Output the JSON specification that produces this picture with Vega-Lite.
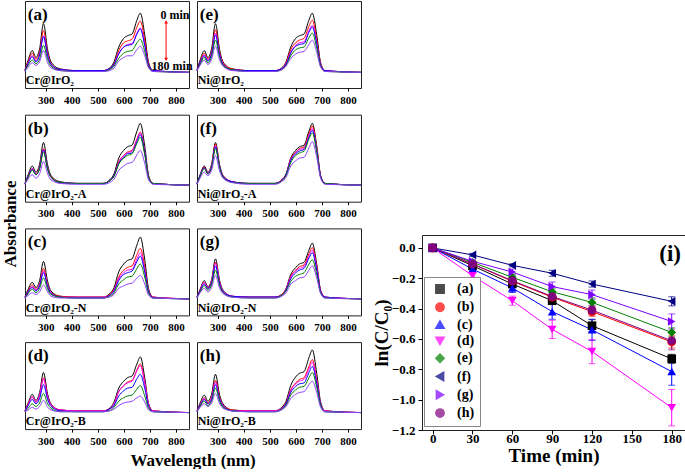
{
"$schema": "https://vega.github.io/schema/vega-lite/v6.json",
"padding": {"left": 1, "top": 0, "right": 0, "bottom": 0},
"background": "white",
"config": {
 "font": "Liberation Serif",
 "view": {"stroke": "#222", "strokeWidth": 1},
 "axis": {"labelFont": "Liberation Serif", "labelFontWeight": "bold", "titleFont": "Liberation Serif", "titleFontWeight": "bold", "labelColor": "#000", "titleColor": "#000", "tickColor": "#000", "domainColor": "#000", "grid": false},
 "header": {"titleFont": "Liberation Serif", "titleFontWeight": "bold", "titleColor": "#000"},
 "text": {"font": "Liberation Serif", "fontWeight": "bold", "color": "#000"}
},
"datasets": {
"spec": [
{"p":"a","w":220,"t0":0.21,"t30":0.21,"t60":0.20,"t90":0.20,"t120":0.20,"t180":0.19},
{"p":"a","w":232,"t0":0.32,"t30":0.30,"t60":0.29,"t90":0.28,"t120":0.26,"t180":0.24},
{"p":"a","w":248,"t0":0.43,"t30":0.40,"t60":0.37,"t90":0.36,"t120":0.32,"t180":0.29},
{"p":"a","w":262,"t0":0.35,"t30":0.33,"t60":0.31,"t90":0.30,"t120":0.28,"t180":0.26},
{"p":"a","w":276,"t0":0.45,"t30":0.41,"t60":0.38,"t90":0.38,"t120":0.33,"t180":0.30},
{"p":"a","w":291,"t0":0.74,"t30":0.66,"t60":0.60,"t90":0.59,"t120":0.49,"t180":0.43},
{"p":"a","w":307,"t0":0.44,"t30":0.40,"t60":0.38,"t90":0.37,"t120":0.33,"t180":0.29},
{"p":"a","w":320,"t0":0.30,"t30":0.28,"t60":0.27,"t90":0.27,"t120":0.25,"t180":0.23},
{"p":"a","w":355,"t0":0.22,"t30":0.21,"t60":0.21,"t90":0.21,"t120":0.20,"t180":0.20},
{"p":"a","w":420,"t0":0.20,"t30":0.20,"t60":0.20,"t90":0.20,"t120":0.19,"t180":0.19},
{"p":"a","w":520,"t0":0.20,"t30":0.20,"t60":0.20,"t90":0.20,"t120":0.19,"t180":0.19},
{"p":"a","w":545,"t0":0.23,"t30":0.22,"t60":0.22,"t90":0.22,"t120":0.21,"t180":0.20},
{"p":"a","w":562,"t0":0.30,"t30":0.28,"t60":0.27,"t90":0.27,"t120":0.25,"t180":0.23},
{"p":"a","w":580,"t0":0.47,"t30":0.43,"t60":0.40,"t90":0.39,"t120":0.34,"t180":0.31},
{"p":"a","w":599,"t0":0.57,"t30":0.52,"t60":0.47,"t90":0.47,"t120":0.40,"t180":0.35},
{"p":"a","w":613,"t0":0.60,"t30":0.54,"t60":0.50,"t90":0.49,"t120":0.42,"t180":0.37},
{"p":"a","w":631,"t0":0.62,"t30":0.56,"t60":0.51,"t90":0.50,"t120":0.43,"t180":0.37},
{"p":"a","w":650,"t0":0.78,"t30":0.70,"t60":0.63,"t90":0.62,"t120":0.52,"t180":0.44},
{"p":"a","w":663,"t0":0.86,"t30":0.77,"t60":0.69,"t90":0.68,"t120":0.56,"t180":0.48},
{"p":"a","w":680,"t0":0.61,"t30":0.55,"t60":0.50,"t90":0.49,"t120":0.42,"t180":0.37},
{"p":"a","w":695,"t0":0.29,"t30":0.28,"t60":0.26,"t90":0.26,"t120":0.24,"t180":0.23},
{"p":"a","w":712,"t0":0.20,"t30":0.20,"t60":0.20,"t90":0.20,"t120":0.19,"t180":0.19},
{"p":"a","w":850,"t0":0.18,"t30":0.18,"t60":0.18,"t90":0.18,"t120":0.18,"t180":0.18},
{"p":"b","w":220,"t0":0.21,"t30":0.21,"t60":0.21,"t90":0.21,"t120":0.21,"t180":0.20},
{"p":"b","w":232,"t0":0.31,"t30":0.29,"t60":0.29,"t90":0.29,"t120":0.28,"t180":0.26},
{"p":"b","w":248,"t0":0.41,"t30":0.38,"t60":0.38,"t90":0.37,"t120":0.36,"t180":0.31},
{"p":"b","w":262,"t0":0.34,"t30":0.32,"t60":0.32,"t90":0.31,"t120":0.31,"t180":0.27},
{"p":"b","w":276,"t0":0.43,"t30":0.40,"t60":0.39,"t90":0.38,"t120":0.38,"t180":0.32},
{"p":"b","w":291,"t0":0.68,"t30":0.61,"t60":0.60,"t90":0.59,"t120":0.57,"t180":0.46},
{"p":"b","w":307,"t0":0.42,"t30":0.39,"t60":0.38,"t90":0.38,"t120":0.37,"t180":0.32},
{"p":"b","w":320,"t0":0.30,"t30":0.29,"t60":0.28,"t90":0.28,"t120":0.28,"t180":0.25},
{"p":"b","w":355,"t0":0.23,"t30":0.22,"t60":0.22,"t90":0.22,"t120":0.22,"t180":0.21},
{"p":"b","w":420,"t0":0.21,"t30":0.21,"t60":0.21,"t90":0.21,"t120":0.21,"t180":0.20},
{"p":"b","w":520,"t0":0.21,"t30":0.21,"t60":0.21,"t90":0.21,"t120":0.21,"t180":0.20},
{"p":"b","w":545,"t0":0.25,"t30":0.24,"t60":0.24,"t90":0.24,"t120":0.24,"t180":0.22},
{"p":"b","w":562,"t0":0.32,"t30":0.30,"t60":0.30,"t90":0.30,"t120":0.29,"t180":0.26},
{"p":"b","w":580,"t0":0.50,"t30":0.46,"t60":0.45,"t90":0.44,"t120":0.43,"t180":0.36},
{"p":"b","w":599,"t0":0.59,"t30":0.53,"t60":0.53,"t90":0.51,"t120":0.50,"t180":0.41},
{"p":"b","w":613,"t0":0.63,"t30":0.57,"t60":0.56,"t90":0.55,"t120":0.53,"t180":0.44},
{"p":"b","w":631,"t0":0.65,"t30":0.59,"t60":0.58,"t90":0.56,"t120":0.55,"t180":0.45},
{"p":"b","w":650,"t0":0.81,"t30":0.72,"t60":0.71,"t90":0.69,"t120":0.67,"t180":0.54},
{"p":"b","w":663,"t0":0.90,"t30":0.80,"t60":0.79,"t90":0.77,"t120":0.74,"t180":0.59},
{"p":"b","w":680,"t0":0.64,"t30":0.58,"t60":0.57,"t90":0.56,"t120":0.54,"t180":0.44},
{"p":"b","w":695,"t0":0.30,"t30":0.29,"t60":0.28,"t90":0.28,"t120":0.28,"t180":0.25},
{"p":"b","w":712,"t0":0.21,"t30":0.21,"t60":0.21,"t90":0.21,"t120":0.21,"t180":0.20},
{"p":"b","w":850,"t0":0.19,"t30":0.19,"t60":0.19,"t90":0.19,"t120":0.19,"t180":0.19},
{"p":"c","w":220,"t0":0.21,"t30":0.21,"t60":0.21,"t90":0.20,"t120":0.20,"t180":0.20},
{"p":"c","w":232,"t0":0.30,"t30":0.28,"t60":0.27,"t90":0.27,"t120":0.25,"t180":0.23},
{"p":"c","w":248,"t0":0.38,"t30":0.35,"t60":0.33,"t90":0.32,"t120":0.30,"t180":0.26},
{"p":"c","w":262,"t0":0.32,"t30":0.30,"t60":0.29,"t90":0.28,"t120":0.26,"t180":0.24},
{"p":"c","w":276,"t0":0.40,"t30":0.36,"t60":0.35,"t90":0.34,"t120":0.31,"t180":0.27},
{"p":"c","w":291,"t0":0.62,"t30":0.54,"t60":0.51,"t90":0.49,"t120":0.43,"t180":0.35},
{"p":"c","w":307,"t0":0.39,"t30":0.35,"t60":0.34,"t90":0.33,"t120":0.30,"t180":0.27},
{"p":"c","w":320,"t0":0.28,"t30":0.26,"t60":0.26,"t90":0.25,"t120":0.24,"t180":0.22},
{"p":"c","w":355,"t0":0.22,"t30":0.22,"t60":0.21,"t90":0.21,"t120":0.21,"t180":0.20},
{"p":"c","w":420,"t0":0.21,"t30":0.21,"t60":0.21,"t90":0.20,"t120":0.20,"t180":0.20},
{"p":"c","w":520,"t0":0.21,"t30":0.21,"t60":0.21,"t90":0.20,"t120":0.20,"t180":0.20},
{"p":"c","w":545,"t0":0.25,"t30":0.24,"t60":0.23,"t90":0.23,"t120":0.22,"t180":0.21},
{"p":"c","w":562,"t0":0.32,"t30":0.30,"t60":0.29,"t90":0.28,"t120":0.26,"t180":0.24},
{"p":"c","w":580,"t0":0.50,"t30":0.44,"t60":0.42,"t90":0.40,"t120":0.36,"t180":0.31},
{"p":"c","w":599,"t0":0.59,"t30":0.52,"t60":0.49,"t90":0.47,"t120":0.41,"t180":0.34},
{"p":"c","w":613,"t0":0.63,"t30":0.55,"t60":0.52,"t90":0.49,"t120":0.44,"t180":0.36},
{"p":"c","w":631,"t0":0.65,"t30":0.57,"t60":0.53,"t90":0.51,"t120":0.45,"t180":0.37},
{"p":"c","w":650,"t0":0.81,"t30":0.70,"t60":0.65,"t90":0.62,"t120":0.54,"t180":0.43},
{"p":"c","w":663,"t0":0.90,"t30":0.77,"t60":0.72,"t90":0.68,"t120":0.59,"t180":0.46},
{"p":"c","w":680,"t0":0.64,"t30":0.56,"t60":0.52,"t90":0.50,"t120":0.44,"t180":0.36},
{"p":"c","w":695,"t0":0.30,"t30":0.28,"t60":0.27,"t90":0.27,"t120":0.25,"t180":0.23},
{"p":"c","w":712,"t0":0.21,"t30":0.21,"t60":0.21,"t90":0.20,"t120":0.20,"t180":0.20},
{"p":"c","w":850,"t0":0.19,"t30":0.19,"t60":0.19,"t90":0.19,"t120":0.19,"t180":0.19},
{"p":"d","w":220,"t0":0.21,"t30":0.21,"t60":0.21,"t90":0.20,"t120":0.20,"t180":0.20},
{"p":"d","w":232,"t0":0.30,"t30":0.29,"t60":0.28,"t90":0.27,"t120":0.24,"t180":0.22},
{"p":"d","w":248,"t0":0.40,"t30":0.37,"t60":0.37,"t90":0.34,"t120":0.29,"t180":0.25},
{"p":"d","w":262,"t0":0.33,"t30":0.31,"t60":0.31,"t90":0.29,"t120":0.26,"t180":0.23},
{"p":"d","w":276,"t0":0.42,"t30":0.39,"t60":0.39,"t90":0.35,"t120":0.30,"t180":0.26},
{"p":"d","w":291,"t0":0.65,"t30":0.59,"t60":0.58,"t90":0.51,"t120":0.41,"t180":0.33},
{"p":"d","w":307,"t0":0.40,"t30":0.37,"t60":0.37,"t90":0.34,"t120":0.29,"t180":0.25},
{"p":"d","w":320,"t0":0.29,"t30":0.28,"t60":0.28,"t90":0.26,"t120":0.24,"t180":0.22},
{"p":"d","w":355,"t0":0.22,"t30":0.22,"t60":0.22,"t90":0.21,"t120":0.20,"t180":0.20},
{"p":"d","w":420,"t0":0.21,"t30":0.21,"t60":0.21,"t90":0.20,"t120":0.20,"t180":0.20},
{"p":"d","w":520,"t0":0.21,"t30":0.21,"t60":0.21,"t90":0.20,"t120":0.20,"t180":0.20},
{"p":"d","w":545,"t0":0.24,"t30":0.23,"t60":0.23,"t90":0.23,"t120":0.21,"t180":0.21},
{"p":"d","w":562,"t0":0.31,"t30":0.29,"t60":0.29,"t90":0.27,"t120":0.25,"t180":0.23},
{"p":"d","w":580,"t0":0.47,"t30":0.43,"t60":0.43,"t90":0.38,"t120":0.32,"t180":0.27},
{"p":"d","w":599,"t0":0.55,"t30":0.50,"t60":0.50,"t90":0.44,"t120":0.36,"t180":0.30},
{"p":"d","w":613,"t0":0.59,"t30":0.54,"t60":0.53,"t90":0.47,"t120":0.38,"t180":0.31},
{"p":"d","w":631,"t0":0.61,"t30":0.56,"t60":0.55,"t90":0.48,"t120":0.39,"t180":0.32},
{"p":"d","w":650,"t0":0.75,"t30":0.68,"t60":0.67,"t90":0.58,"t120":0.46,"t180":0.36},
{"p":"d","w":663,"t0":0.83,"t30":0.75,"t60":0.73,"t90":0.63,"t120":0.50,"t180":0.38},
{"p":"d","w":680,"t0":0.59,"t30":0.54,"t60":0.53,"t90":0.47,"t120":0.38,"t180":0.31},
{"p":"d","w":695,"t0":0.29,"t30":0.28,"t60":0.28,"t90":0.26,"t120":0.24,"t180":0.22},
{"p":"d","w":712,"t0":0.21,"t30":0.21,"t60":0.21,"t90":0.20,"t120":0.20,"t180":0.20},
{"p":"d","w":850,"t0":0.19,"t30":0.19,"t60":0.19,"t90":0.19,"t120":0.19,"t180":0.19},
{"p":"e","w":220,"t0":0.21,"t30":0.21,"t60":0.20,"t90":0.20,"t120":0.20,"t180":0.20},
{"p":"e","w":232,"t0":0.32,"t30":0.30,"t60":0.29,"t90":0.29,"t120":0.27,"t180":0.26},
{"p":"e","w":248,"t0":0.43,"t30":0.40,"t60":0.38,"t90":0.37,"t120":0.35,"t180":0.32},
{"p":"e","w":262,"t0":0.35,"t30":0.33,"t60":0.32,"t90":0.31,"t120":0.29,"t180":0.27},
{"p":"e","w":276,"t0":0.45,"t30":0.42,"t60":0.40,"t90":0.39,"t120":0.36,"t180":0.33},
{"p":"e","w":291,"t0":0.74,"t30":0.67,"t60":0.63,"t90":0.61,"t120":0.55,"t180":0.48},
{"p":"e","w":307,"t0":0.44,"t30":0.41,"t60":0.39,"t90":0.38,"t120":0.35,"t180":0.32},
{"p":"e","w":320,"t0":0.30,"t30":0.29,"t60":0.28,"t90":0.27,"t120":0.26,"t180":0.25},
{"p":"e","w":355,"t0":0.22,"t30":0.22,"t60":0.21,"t90":0.21,"t120":0.21,"t180":0.20},
{"p":"e","w":420,"t0":0.20,"t30":0.20,"t60":0.20,"t90":0.20,"t120":0.19,"t180":0.19},
{"p":"e","w":520,"t0":0.20,"t30":0.20,"t60":0.20,"t90":0.20,"t120":0.19,"t180":0.19},
{"p":"e","w":545,"t0":0.23,"t30":0.22,"t60":0.22,"t90":0.22,"t120":0.21,"t180":0.21},
{"p":"e","w":562,"t0":0.30,"t30":0.29,"t60":0.28,"t90":0.27,"t120":0.26,"t180":0.25},
{"p":"e","w":580,"t0":0.47,"t30":0.44,"t60":0.41,"t90":0.40,"t120":0.37,"t180":0.34},
{"p":"e","w":599,"t0":0.57,"t30":0.52,"t60":0.49,"t90":0.48,"t120":0.44,"t180":0.39},
{"p":"e","w":613,"t0":0.60,"t30":0.55,"t60":0.52,"t90":0.50,"t120":0.46,"t180":0.41},
{"p":"e","w":631,"t0":0.62,"t30":0.57,"t60":0.53,"t90":0.51,"t120":0.47,"t180":0.42},
{"p":"e","w":650,"t0":0.78,"t30":0.71,"t60":0.66,"t90":0.64,"t120":0.58,"t180":0.50},
{"p":"e","w":663,"t0":0.86,"t30":0.78,"t60":0.72,"t90":0.70,"t120":0.63,"t180":0.55},
{"p":"e","w":680,"t0":0.61,"t30":0.56,"t60":0.52,"t90":0.51,"t120":0.46,"t180":0.41},
{"p":"e","w":695,"t0":0.29,"t30":0.28,"t60":0.27,"t90":0.26,"t120":0.25,"t180":0.24},
{"p":"e","w":712,"t0":0.20,"t30":0.20,"t60":0.20,"t90":0.20,"t120":0.19,"t180":0.19},
{"p":"e","w":850,"t0":0.18,"t30":0.18,"t60":0.18,"t90":0.18,"t120":0.18,"t180":0.18},
{"p":"f","w":220,"t0":0.21,"t30":0.21,"t60":0.21,"t90":0.21,"t120":0.21,"t180":0.20},
{"p":"f","w":232,"t0":0.31,"t30":0.30,"t60":0.30,"t90":0.30,"t120":0.29,"t180":0.27},
{"p":"f","w":248,"t0":0.41,"t30":0.40,"t60":0.39,"t90":0.39,"t120":0.38,"t180":0.34},
{"p":"f","w":262,"t0":0.34,"t30":0.33,"t60":0.33,"t90":0.32,"t120":0.32,"t180":0.30},
{"p":"f","w":276,"t0":0.43,"t30":0.42,"t60":0.41,"t90":0.40,"t120":0.39,"t180":0.36},
{"p":"f","w":291,"t0":0.68,"t30":0.66,"t60":0.64,"t90":0.63,"t120":0.61,"t180":0.53},
{"p":"f","w":307,"t0":0.42,"t30":0.41,"t60":0.40,"t90":0.40,"t120":0.39,"t180":0.35},
{"p":"f","w":320,"t0":0.30,"t30":0.30,"t60":0.29,"t90":0.29,"t120":0.28,"t180":0.27},
{"p":"f","w":355,"t0":0.23,"t30":0.23,"t60":0.23,"t90":0.23,"t120":0.22,"t180":0.22},
{"p":"f","w":420,"t0":0.21,"t30":0.21,"t60":0.21,"t90":0.21,"t120":0.21,"t180":0.20},
{"p":"f","w":520,"t0":0.21,"t30":0.21,"t60":0.21,"t90":0.21,"t120":0.21,"t180":0.20},
{"p":"f","w":545,"t0":0.25,"t30":0.25,"t60":0.25,"t90":0.24,"t120":0.24,"t180":0.23},
{"p":"f","w":562,"t0":0.32,"t30":0.31,"t60":0.31,"t90":0.31,"t120":0.30,"t180":0.28},
{"p":"f","w":580,"t0":0.50,"t30":0.49,"t60":0.48,"t90":0.47,"t120":0.45,"t180":0.41},
{"p":"f","w":599,"t0":0.59,"t30":0.57,"t60":0.56,"t90":0.55,"t120":0.53,"t180":0.47},
{"p":"f","w":613,"t0":0.63,"t30":0.61,"t60":0.60,"t90":0.58,"t120":0.56,"t180":0.50},
{"p":"f","w":631,"t0":0.65,"t30":0.63,"t60":0.61,"t90":0.60,"t120":0.58,"t180":0.51},
{"p":"f","w":650,"t0":0.81,"t30":0.78,"t60":0.76,"t90":0.74,"t120":0.72,"t180":0.62},
{"p":"f","w":663,"t0":0.90,"t30":0.87,"t60":0.84,"t90":0.82,"t120":0.79,"t180":0.69},
{"p":"f","w":680,"t0":0.64,"t30":0.62,"t60":0.60,"t90":0.59,"t120":0.57,"t180":0.51},
{"p":"f","w":695,"t0":0.30,"t30":0.30,"t60":0.29,"t90":0.29,"t120":0.28,"t180":0.27},
{"p":"f","w":712,"t0":0.21,"t30":0.21,"t60":0.21,"t90":0.21,"t120":0.21,"t180":0.20},
{"p":"f","w":850,"t0":0.19,"t30":0.19,"t60":0.19,"t90":0.19,"t120":0.19,"t180":0.19},
{"p":"g","w":220,"t0":0.21,"t30":0.21,"t60":0.21,"t90":0.21,"t120":0.20,"t180":0.20},
{"p":"g","w":232,"t0":0.30,"t30":0.29,"t60":0.29,"t90":0.28,"t120":0.27,"t180":0.26},
{"p":"g","w":248,"t0":0.40,"t30":0.38,"t60":0.38,"t90":0.36,"t120":0.34,"t180":0.31},
{"p":"g","w":262,"t0":0.33,"t30":0.32,"t60":0.31,"t90":0.31,"t120":0.29,"t180":0.27},
{"p":"g","w":276,"t0":0.41,"t30":0.39,"t60":0.38,"t90":0.37,"t120":0.35,"t180":0.32},
{"p":"g","w":291,"t0":0.65,"t30":0.61,"t60":0.60,"t90":0.57,"t120":0.52,"t180":0.46},
{"p":"g","w":307,"t0":0.40,"t30":0.38,"t60":0.38,"t90":0.36,"t120":0.34,"t180":0.31},
{"p":"g","w":320,"t0":0.29,"t30":0.28,"t60":0.28,"t90":0.27,"t120":0.26,"t180":0.25},
{"p":"g","w":355,"t0":0.22,"t30":0.22,"t60":0.22,"t90":0.22,"t120":0.21,"t180":0.21},
{"p":"g","w":420,"t0":0.21,"t30":0.21,"t60":0.21,"t90":0.21,"t120":0.20,"t180":0.20},
{"p":"g","w":520,"t0":0.21,"t30":0.21,"t60":0.21,"t90":0.21,"t120":0.20,"t180":0.20},
{"p":"g","w":545,"t0":0.24,"t30":0.24,"t60":0.23,"t90":0.23,"t120":0.23,"t180":0.22},
{"p":"g","w":562,"t0":0.31,"t30":0.30,"t60":0.30,"t90":0.29,"t120":0.28,"t180":0.26},
{"p":"g","w":580,"t0":0.47,"t30":0.45,"t60":0.44,"t90":0.42,"t120":0.39,"t180":0.36},
{"p":"g","w":599,"t0":0.55,"t30":0.52,"t60":0.51,"t90":0.49,"t120":0.45,"t180":0.40},
{"p":"g","w":613,"t0":0.59,"t30":0.56,"t60":0.54,"t90":0.52,"t120":0.47,"t180":0.43},
{"p":"g","w":631,"t0":0.61,"t30":0.58,"t60":0.56,"t90":0.54,"t120":0.49,"t180":0.44},
{"p":"g","w":650,"t0":0.75,"t30":0.71,"t60":0.68,"t90":0.66,"t120":0.59,"t180":0.52},
{"p":"g","w":663,"t0":0.83,"t30":0.78,"t60":0.75,"t90":0.72,"t120":0.64,"t180":0.57},
{"p":"g","w":680,"t0":0.59,"t30":0.56,"t60":0.54,"t90":0.52,"t120":0.47,"t180":0.43},
{"p":"g","w":695,"t0":0.29,"t30":0.28,"t60":0.28,"t90":0.27,"t120":0.26,"t180":0.25},
{"p":"g","w":712,"t0":0.21,"t30":0.21,"t60":0.21,"t90":0.21,"t120":0.20,"t180":0.20},
{"p":"g","w":850,"t0":0.19,"t30":0.19,"t60":0.19,"t90":0.19,"t120":0.19,"t180":0.19},
{"p":"h","w":220,"t0":0.21,"t30":0.21,"t60":0.21,"t90":0.20,"t120":0.20,"t180":0.20},
{"p":"h","w":232,"t0":0.30,"t30":0.28,"t60":0.28,"t90":0.27,"t120":0.26,"t180":0.25},
{"p":"h","w":248,"t0":0.39,"t30":0.36,"t60":0.35,"t90":0.34,"t120":0.32,"t180":0.29},
{"p":"h","w":262,"t0":0.32,"t30":0.30,"t60":0.29,"t90":0.29,"t120":0.27,"t180":0.26},
{"p":"h","w":276,"t0":0.40,"t30":0.37,"t60":0.36,"t90":0.34,"t120":0.32,"t180":0.30},
{"p":"h","w":291,"t0":0.63,"t30":0.56,"t60":0.54,"t90":0.51,"t120":0.47,"t180":0.41},
{"p":"h","w":307,"t0":0.39,"t30":0.36,"t60":0.35,"t90":0.34,"t120":0.32,"t180":0.29},
{"p":"h","w":320,"t0":0.29,"t30":0.27,"t60":0.27,"t90":0.26,"t120":0.25,"t180":0.24},
{"p":"h","w":355,"t0":0.22,"t30":0.22,"t60":0.21,"t90":0.21,"t120":0.21,"t180":0.21},
{"p":"h","w":420,"t0":0.21,"t30":0.21,"t60":0.21,"t90":0.20,"t120":0.20,"t180":0.20},
{"p":"h","w":520,"t0":0.21,"t30":0.21,"t60":0.21,"t90":0.20,"t120":0.20,"t180":0.20},
{"p":"h","w":545,"t0":0.25,"t30":0.24,"t60":0.24,"t90":0.23,"t120":0.23,"t180":0.22},
{"p":"h","w":562,"t0":0.32,"t30":0.30,"t60":0.29,"t90":0.29,"t120":0.27,"t180":0.26},
{"p":"h","w":580,"t0":0.50,"t30":0.45,"t60":0.44,"t90":0.42,"t120":0.39,"t180":0.35},
{"p":"h","w":599,"t0":0.60,"t30":0.53,"t60":0.52,"t90":0.49,"t120":0.45,"t180":0.40},
{"p":"h","w":613,"t0":0.64,"t30":0.57,"t60":0.55,"t90":0.52,"t120":0.48,"t180":0.42},
{"p":"h","w":631,"t0":0.66,"t30":0.59,"t60":0.57,"t90":0.53,"t120":0.49,"t180":0.43},
{"p":"h","w":650,"t0":0.82,"t30":0.72,"t60":0.69,"t90":0.65,"t120":0.59,"t180":0.51},
{"p":"h","w":663,"t0":0.91,"t30":0.80,"t60":0.77,"t90":0.72,"t120":0.65,"t180":0.55},
{"p":"h","w":680,"t0":0.64,"t30":0.57,"t60":0.55,"t90":0.52,"t120":0.48,"t180":0.42},
{"p":"h","w":695,"t0":0.31,"t30":0.29,"t60":0.29,"t90":0.28,"t120":0.27,"t180":0.25},
{"p":"h","w":712,"t0":0.21,"t30":0.21,"t60":0.21,"t90":0.20,"t120":0.20,"t180":0.20},
{"p":"h","w":850,"t0":0.19,"t30":0.19,"t60":0.19,"t90":0.19,"t120":0.19,"t180":0.19}
],
"kin": [
{"s":"(a)","t":0,"v":0,"e":0},{"s":"(a)","t":30,"v":-0.117,"e":0.01},{"s":"(a)","t":60,"v":-0.238,"e":0.02},{"s":"(a)","t":90,"v":-0.348,"e":0.02},{"s":"(a)","t":120,"v":-0.513,"e":0.04},{"s":"(a)","t":180,"v":-0.731,"e":0.03},
{"s":"(b)","t":0,"v":0,"e":0},{"s":"(b)","t":30,"v":-0.106,"e":0.01},{"s":"(b)","t":60,"v":-0.22,"e":0.02},{"s":"(b)","t":90,"v":-0.325,"e":0.02},{"s":"(b)","t":120,"v":-0.42,"e":0.03},{"s":"(b)","t":180,"v":-0.62,"e":0.04},
{"s":"(c)","t":0,"v":0,"e":0},{"s":"(c)","t":30,"v":-0.139,"e":0.02},{"s":"(c)","t":60,"v":-0.264,"e":0.03},{"s":"(c)","t":90,"v":-0.42,"e":0.05},{"s":"(c)","t":120,"v":-0.54,"e":0.07},{"s":"(c)","t":180,"v":-0.815,"e":0.09},
{"s":"(d)","t":0,"v":0,"e":0},{"s":"(d)","t":30,"v":-0.183,"e":0.02},{"s":"(d)","t":60,"v":-0.348,"e":0.03},{"s":"(d)","t":90,"v":-0.537,"e":0.06},{"s":"(d)","t":120,"v":-0.683,"e":0.08},{"s":"(d)","t":180,"v":-1.053,"e":0.12},
{"s":"(e)","t":0,"v":0,"e":0},{"s":"(e)","t":30,"v":-0.095,"e":0.01},{"s":"(e)","t":60,"v":-0.194,"e":0.02},{"s":"(e)","t":90,"v":-0.289,"e":0.02},{"s":"(e)","t":120,"v":-0.359,"e":0.03},{"s":"(e)","t":180,"v":-0.557,"e":0.03},
{"s":"(f)","t":0,"v":0,"e":0},{"s":"(f)","t":30,"v":-0.046,"e":0.01},{"s":"(f)","t":60,"v":-0.115,"e":0.01},{"s":"(f)","t":90,"v":-0.167,"e":0.02},{"s":"(f)","t":120,"v":-0.238,"e":0.02},{"s":"(f)","t":180,"v":-0.352,"e":0.03},
{"s":"(g)","t":0,"v":0,"e":0},{"s":"(g)","t":30,"v":-0.088,"e":0.01},{"s":"(g)","t":60,"v":-0.159,"e":0.02},{"s":"(g)","t":90,"v":-0.255,"e":0.03},{"s":"(g)","t":120,"v":-0.308,"e":0.03},{"s":"(g)","t":180,"v":-0.485,"e":0.05},
{"s":"(h)","t":0,"v":0,"e":0},{"s":"(h)","t":30,"v":-0.106,"e":0.01},{"s":"(h)","t":60,"v":-0.216,"e":0.02},{"s":"(h)","t":90,"v":-0.32,"e":0.02},{"s":"(h)","t":120,"v":-0.41,"e":0.03},{"s":"(h)","t":180,"v":-0.612,"e":0.06}
]
},
"spacing": 7,
"resolve": {"scale": {"x": "independent", "y": "independent", "color": "independent", "shape": "independent"}, "legend": {"color": "independent", "shape": "independent"}},
"hconcat": [
{
 "data": {"name": "spec"},
 "transform": [
  {"lookup": "p", "from": {"data": {"values": [
   {"p":"a","r":1,"c":1,"tag":"(a)","lab":"Cr@IrO₂"},
   {"p":"b","r":2,"c":1,"tag":"(b)","lab":"Cr@IrO₂-A"},
   {"p":"c","r":3,"c":1,"tag":"(c)","lab":"Cr@IrO₂-N"},
   {"p":"d","r":4,"c":1,"tag":"(d)","lab":"Cr@IrO₂-B"},
   {"p":"e","r":1,"c":2,"tag":"(e)","lab":"Ni@IrO₂"},
   {"p":"f","r":2,"c":2,"tag":"(f)","lab":"Ni@IrO₂-A"},
   {"p":"g","r":3,"c":2,"tag":"(g)","lab":"Ni@IrO₂-N"},
   {"p":"h","r":4,"c":2,"tag":"(h)","lab":"Ni@IrO₂-B"}]}, "key": "p", "fields": ["r","c","tag","lab"]}},
  {"fold": ["t0","t30","t60","t90","t120","t180"], "as": ["time","A"]}
 ],
 "facet": {
  "row": {"field": "r", "type": "ordinal", "title": "Absorbance", "header": {"labels": false, "labelPadding": 0, "titleFontSize": 17, "titlePadding": -8}},
  "column": {"field": "c", "type": "ordinal", "title": "Wavelength (nm)", "header": {"labels": false, "labelPadding": 0, "titleOrient": "bottom", "titleFontSize": 17, "titlePadding": -4}}
 },
 "spacing": {"row": 7.7, "column": 0},
 "resolve": {"axis": {"x": "independent"}},
 "spec": {
  "width": 164, "height": 87,
  "encoding": {
   "x": {"field": "w", "type": "quantitative", "scale": {"domain": [220, 850], "nice": false, "zero": false},
         "axis": {"values": [300,400,500,600,700,800], "title": null, "domain": false, "tickSize": 3, "labelFontSize": 11, "labelPadding": 3, "format": "d", "labelOverlap": false}},
   "y": {"field": "A", "type": "quantitative", "scale": {"domain": [0, 1], "nice": false, "zero": false}, "axis": null}
  },
  "layer": [
   {"mark": {"type": "line", "strokeWidth": 1, "interpolate": "monotone"},
    "encoding": {
     "color": {"field": "time", "type": "nominal", "scale": {"domain": ["t0","t30","t60","t90","t120","t180"], "range": ["#000000","#ff0000","#ff00ff","#0000ff","#008000","#9040ff"]}, "legend": null}
    }},
   {"transform": [{"filter": "datum.w == 220 && datum.time == 't0'"}],
    "mark": {"type": "text", "align": "left", "baseline": "middle", "fontSize": 17},
    "encoding": {"x": {"datum": 231}, "y": {"datum": 0.84}, "text": {"field": "tag"}}},
   {"transform": [{"filter": "datum.w == 220 && datum.time == 't0'"}],
    "mark": {"type": "text", "align": "left", "baseline": "middle", "fontSize": 12},
    "encoding": {"x": {"datum": 223}, "y": {"datum": 0.09}, "text": {"field": "lab"}}},
   {"transform": [{"filter": "datum.p == 'a' && datum.w == 220 && datum.time == 't0'"}],
    "mark": {"type": "text", "align": "center", "baseline": "middle", "fontSize": 12, "text": "0 min"},
    "encoding": {"x": {"datum": 796}, "y": {"datum": 0.84}}},
   {"transform": [{"filter": "datum.p == 'a' && datum.w == 220 && datum.time == 't0'"}],
    "mark": {"type": "text", "align": "center", "baseline": "middle", "fontSize": 12, "text": "180 min"},
    "encoding": {"x": {"datum": 785}, "y": {"datum": 0.25}}},
   {"transform": [{"filter": "datum.p == 'a' && datum.w == 220 && datum.time == 't0'"}],
    "mark": {"type": "rule", "color": "#ff0000", "strokeWidth": 1},
    "encoding": {"x": {"datum": 762}, "y": {"datum": 0.76}, "y2": {"datum": 0.33}}},
   {"transform": [{"filter": "datum.p == 'a' && datum.w == 220 && datum.time == 't0'"}],
    "mark": {"type": "point", "shape": "triangle-up", "filled": true, "color": "#ff0000", "size": 14, "opacity": 1},
    "encoding": {"x": {"datum": 762}, "y": {"datum": 0.76}}},
   {"transform": [{"filter": "datum.p == 'a' && datum.w == 220 && datum.time == 't0'"}],
    "mark": {"type": "point", "shape": "triangle-down", "filled": true, "color": "#ff0000", "size": 14, "opacity": 1},
    "encoding": {"x": {"datum": 762}, "y": {"datum": 0.33}}}
  ]
 }
},
{
 "spacing": 0,
 "vconcat": [
  {"width": 263, "height": 233, "data": {"values": [{}]}, "mark": {"type": "point", "opacity": 0}, "encoding": {}, "view": {"stroke": null}},
  {
   "width": 263, "height": 195,
   "data": {"name": "kin"},
   "encoding": {
    "x": {"field": "t", "type": "quantitative", "scale": {"domain": [-8, 190], "nice": false, "zero": false},
          "axis": {"values": [0,30,60,90,120,150,180], "title": "Time (min)", "tickSize": 4, "labelFontSize": 13, "labelPadding": -2, "titleFontSize": 19, "titlePadding": 1, "domain": false, "labelOverlap": false}},
    "y": {"field": "v", "type": "quantitative", "scale": {"domain": [-1.2, 0.085], "nice": false, "zero": false},
          "axis": {"values": [-1.2,-1.0,-0.8,-0.6,-0.4,-0.2,0.0], "format": ".1f", "title": "ln(C/C₀)", "tickSize": 4, "labelFontSize": 13, "labelPadding": 3, "titleFontSize": 19, "titlePadding": 0, "domain": false, "labelOverlap": false}},
    "color": {"field": "s", "type": "nominal", "scale": {"domain": ["(a)","(b)","(c)","(d)","(e)","(f)","(g)","(h)"], "range": ["#000000","#ff0000","#0000ff","#ff00ff","#008000","#000080","#8000ff","#800080"]},
              "legend": {"title": null, "orient": "none", "legendX": 2, "legendY": 276, "padding": 5, "rowPadding": 2.3, "symbolSize": 70, "symbolOffset": 4, "labelFontSize": 14, "labelFont": "Liberation Serif", "labelFontWeight": "bold", "labelColor": "#000", "strokeColor": "#888", "fillColor": "#fff", "labelOffset": 10}}
   },
   "layer": [
    {"mark": {"type": "line", "strokeWidth": 1}},
    {"mark": {"type": "errorbar", "ticks": {"size": 7}, "thickness": 1},
     "encoding": {"yError": {"field": "e"}}},
    {"mark": {"type": "point", "filled": true, "size": 75, "opacity": 1},
     "encoding": {
      "shape": {"field": "s", "type": "nominal", "scale": {"domain": ["(a)","(b)","(c)","(d)","(e)","(f)","(g)","(h)"], "range": ["square","circle","triangle-up","triangle-down","diamond","triangle-left","triangle-right","circle"]},
                "legend": {"title": null, "orient": "none", "legendX": 2, "legendY": 276, "padding": 5, "rowPadding": 2.3, "symbolSize": 70, "symbolOffset": 4, "labelFontSize": 14, "labelFont": "Liberation Serif", "labelFontWeight": "bold", "labelColor": "#000", "strokeColor": "#888", "fillColor": "#fff", "labelOffset": 10}}
     }},
    {"transform": [{"filter": "datum.s == '(a)' && datum.t == 0"}],
     "mark": {"type": "text", "align": "right", "baseline": "middle", "fontSize": 23, "text": "(i)"},
     "encoding": {"x": {"datum": 187}, "y": {"datum": -0.04}, "color": {"value": "#000"}}}
   ]
  }
 ]
}
]
}
